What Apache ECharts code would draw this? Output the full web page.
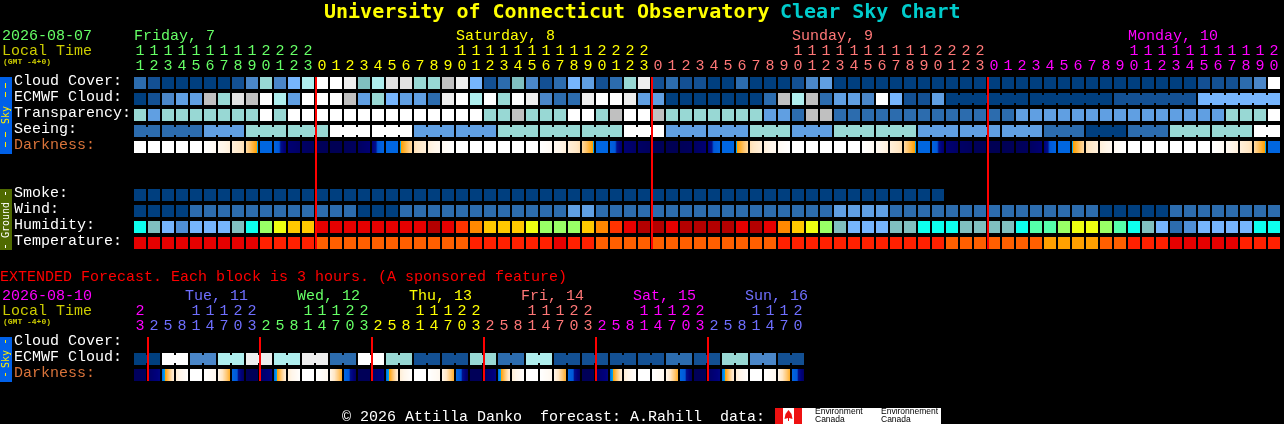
<!DOCTYPE html>
<html><head><meta charset="utf-8">
<style>html,body{margin:0;padding:0;background:#000}#c{width:1284px;height:424px}</style>
<script src="https://cdn.jsdelivr.net/npm/echarts@6/dist/echarts.min.js"></script>
</head><body><div id="c"></div>
<script>
// ---------- data ----------
const hours = [11,12,13,14,15,16,17,18,19,20,21,22,23,
 0,1,2,3,4,5,6,7,8,9,10,11,12,13,14,15,16,17,18,19,20,21,22,23,
 0,1,2,3,4,5,6,7,8,9,10,11,12,13,14,15,16,17,18,19,20,21,22,23,
 0,1,2,3,4,5,6,7,8,9,10,11,12,13,14,15,16,17,18,19,20];
const dayOfCol = [0,0,0,0,0,0,0,0,0,0,0,0,0,
 1,1,1,1,1,1,1,1,1,1,1,1,1,1,1,1,1,1,1,1,1,1,1,1,
 2,2,2,2,2,2,2,2,2,2,2,2,2,2,2,2,2,2,2,2,2,2,2,2,
 3,3,3,3,3,3,3,3,3,3,3,3,3,3,3,3,3,3,3,3,3,3];
const dayColors = ['#66ff66','#ffff00','#ff7777','#ff00ff'];
const rowLabels = ['Cloud Cover:','ECMWF Cloud:','Transparency:','Seeing:','Darkness:','','','Smoke:','Wind:','Humidity:','Temperature:'];
const cloudCover = [2,1,0,0,0,0,0,1,3,7,3,5,8, 12,12,11,6,8,10,10,7, 7,9,11,5,1,2,6,3,1,2,5,4,1,2,7,11, 1,2,1,1,0,0,2,0,0,0,1,3,4,0,0,
 0,0,0,0,0,0,0,0,0,0,0,0,0,0,0,0,0,0,0,0,0,0,0,0, 1,1,1,2,3,12];
const ecmwfCloud = [0,1,3,4,4,9,7,10,9,12,8,4,12, 12,12,9,4,7,5,4,4, 2,11,12,8,12,7,12,11,3,2,2,11,12,12,11,4, 4,0,0,0,0,0,0,0,2,9,8,9,2,4,4, 3,12,5,1,1,4,
 0,0,0,0,0,0,0,0,0,0,0,0, 1,1,1,1,1,1, 5,5,5,5,5,5];
const ecmwfBlocks = [1,1,1,1,1,1,1,1,1,1,1,1,1,1,1,1,1,1,1,1,1,1,1,1,1,1,1,1,1,1,1,1,1,1,1,1,1,1,1,1,1,1,1,1,1,1,1,1,1,1,1,1,1,1,1,1,1,1,6,6,6,6];
const transparency = [7,4,7,7,7,7,7,7,7,12,7,12,12, 12,12,12,12,12,12,12,12, 12,12,12,12,7,7,9,7,7,7,12,12,7,9,12,12, 9,7,7,7,7,7,7,7,4,4,2,9,9,2,2,
 2,2,2,2,2,2,2,2,2,2,2, 4,4,4,4,4,4,4,4,4,4,4,4,4,4,4, 7,7,7,12];
const seeingBlocks = [2,3,3,3,3,3,3,3,3,3,3,3,3,3,3,3,3,3,3,3,3,3,3,3,3,3,3,2];
const seeingValues = [2,2,4,7,7,12,12,4,4,7,7,7,12,4,4,7,4,7,7,4,4,4,2,0,2,7,7,12];
const darkStart = [8,8,8,8,8,8,7.3,6.6,5.6,3,2.8,.8,.5,.2,.1,.2,.4,1,3,3.7,5.8,6.6,7.4,8,8,8,8,8,8,
 8,7.3,6.6,5.6,3,2.8,.8,.5,.2,.1,.2,.4,1,3,3.7,5.8,6.6,7.4,8,8,8,8,8,8,
 7.3,6.6,5.6,3,2.8,.8,.5,.2,.1,.1,.2,.4,1,3,3.7,5.8,6.6,7.4,8,8,8,8,8,8,8,7.3,6.6,5.6,3];
const darkEnd = [8,8,8,8,8,7.4,6.6,5.8,3.7,3,.7,.5,.3,.2,.1,.3,.8,2.9,3,5.6,6.6,7.3,8,8,8,8,8,8,8,
 7.4,6.6,5.8,3.7,3,.7,.5,.3,.2,.1,.3,.8,2.9,3,5.6,6.6,7.3,8,8,8,8,8,8,7.4,
 6.6,5.8,3.7,3,.7,.5,.3,.2,.1,.2,.3,.8,2.9,3,5.6,6.6,7.3,8,8,8,8,8,8,8,7.4,6.6,5.8,3.7,3];
const smoke = [0,0,0,0,0,0,0,0,0,0,0,0,0,0,0,0,0,0,0,0,0,0,0,0,0,0,0,0,0,0,0,0,0,0,0,0,0,0,0,0,0,0,0,0,0,0,0,0,0,0,0,0,0,0,0,0,0,0];
const wind = [0,0,0,0,2,2,2,2,2,2,2,2,2,2,2,2,0,0,0,2,2, 2,2,2,2,2,2,2,2,2,2,4,4,2,2,2,2, 2,2,2,2,2,2,2,2,2,2,2,2,2,4,4,
 4,4,2,2,2,2,2,2,2,2,2,2,2,2,2,2,2,0,0,0,0,0,2,2,2,2,2,2,2,2];
const humidity = [4,3,2,1,2,2,2,3,4,6,7,8,8, 11,11,11,11,11,11,11,11, 12,11,10,9,8,8,8,7,6,6,6,8,9,10,11,12, 12,11,12,12,12,12,11,12,11,9,8,7,6,3,2,
 2,2,3,3,4,4,4,3,3,3,3,4,5,5,6,7,7,6,5,4,3,2,0,1,2,2,2,2,4,4];
const temperature = [0,0,0,0,0,0,0,0,0,1,1,1,1, 2,2,2,2,2,2,2,2, 2,2,2,1,1,1,1,1,1,0,1,1,2,2,2,2, 2,2,2,2,2,2,2,2,2,1,1,1,1,1,1,
 1,1,1,1,1,1,2,2,2,2,2,2,2,3,3,3,3,2,2,1,1,1,0,0,0,0,0,1,1,1];
const midnights = [13,37,61];
const dayTitles = [['Friday, 7',0],['Saturday, 8',1],['Sunday, 9',2],['Monday, 10',3]];

const extHours = [23, 2,5,8,11,14,17,20,23, 2,5,8,11,14,17,20,23, 2,5,8,11,14,17,20,23, 2,5,8,11,14,17,20,23, 2,5,8,11,14,17,20,23, 2,5,8,11,14,17,20];
const extDayOfCol = [3, 4,4,4,4,4,4,4,4, 0,0,0,0,0,0,0,0, 1,1,1,1,1,1,1,1, 2,2,2,2,2,2,2,2, 3,3,3,3,3,3,3,3, 4,4,4,4,4,4,4];
const extColors = ['#66ff66','#ffff00','#ff7777','#ff00ff','#6f6fff'];
const extRowLabels = ['Cloud Cover:','ECMWF Cloud:','Darkness:'];
const extEcmwf = [0,12,3,8,11,8,11,2,12,7,1,1,7,2,8,1,1,1,1,2,1,7,3,1];
const extDarkStart = [.3,.5,3,6.5,8,8,7,3, .2,.5,3,6.5,8,8,7,3, .2,.5,3,6.5,8,8,7,3, .2,.5,3,6.5,8,8,7,3, .2,.5,3,6.5,8,8,7,3, .2,.5,3,6.5,8,8,7,3];
const extDarkEnd   = [.3,1.2,6.5,7.9,8,7.2,4.3,.4, .2,1.2,6.5,7.9,8,7.2,4.3,.4, .2,1.2,6.5,7.9,8,7.2,4.3,.4, .2,1.2,6.5,7.9,8,7.2,4.3,.4, .2,1.2,6.5,7.9,8,7.2,4.3,.4, .2,1.2,6.5,7.9,8,7.2,4.3,.4];
const extMidnights = [1,9,17,25,33,41];
const extDayTitles = [['Tue, 11',4],['Wed, 12',0],['Thu, 13',1],['Fri, 14',2],['Sat, 15',3],['Sun, 16',4]];

// ---------- palettes ----------
const skyPal = ['#003f7f','#135093','#2c6cae','#4a86c8','#609fe2','#76b5fd','#80bfbf','#98d8d4','#afeeee','#c0c0c0','#e2e2e2','#eeeeee','#ffffff'];
const humPal = ['#2c6cae','#4f8fd6','#76b5fd','#80bfbf','#0dffee','#55ffaa','#99ff66','#eeff11','#ffc800','#ff8800','#ff3300','#e60000','#b40000'];
const tempPal = ['#e60000','#ff2000','#ff5f00','#ffa000'];
const darkRamp = [[0,[0,0,0x4f]],[1,[0,0,0x7c]],[1.6,[0,0x0f,0x8a]],[1.9,[0,0x58,0xd8]],[3,[0,0x66,0xe0]],[3.9,[0,0xb0,0xf0]],[3.9001,[0xff,0xa0,0]],[5,[0xff,0xc6,0x70]],[6,[0xff,0xe6,0xc4]],[7,[0xff,0xf6,0xea]],[8,[255,255,255]]];
function rampColor(v){
  for(let i=1;i<darkRamp.length;i++){
    if(v<=darkRamp[i][0]){
      const a=darkRamp[i-1],b=darkRamp[i],t=(v-a[0])/(b[0]-a[0]);
      return 'rgb('+a[1].map((c,k)=>Math.round(c+(b[1][k]-c)*t)).join(',')+')';
    }
  }
  return '#fff';
}
function darkFill(s,e){
  if(s===e) return rampColor(s);
  const n=12,stops=[];
  for(let i=0;i<n;i++){
    const c=rampColor(s+(e-s)*(i+.5)/n);
    stops.push({offset:i/n,color:c},{offset:(i+1)/n,color:c});
  }
  return {type:'linear',x:0,y:0,x2:1,y2:0,colorStops:stops};
}
function blockFlags(blocks){
  const out=[];
  blocks.forEach(b=>{for(let i=0;i<b;i++)out.push(i<b-1);});
  return out;
}
function expand(blocks,vals){
  const out=[];
  blocks.forEach((b,k)=>{for(let i=0;i<b;i++)out.push(vals[k]);});
  return out;
}
function cellRows(rows){
  const cells=[];
  rows.forEach(r=>r.vals.forEach((v,i)=>cells.push({col:i,row:r.row,fill:r.fill(v,i),join:r.join?r.join[i]:false})));
  return cells;
}
const mainCells = cellRows([
 {row:0,vals:cloudCover,fill:v=>skyPal[v]},
 {row:1,vals:ecmwfCloud,fill:v=>skyPal[v],join:blockFlags(ecmwfBlocks)},
 {row:2,vals:transparency,fill:v=>skyPal[v]},
 {row:3,vals:expand(seeingBlocks,seeingValues),fill:v=>skyPal[v],join:blockFlags(seeingBlocks)},
 {row:4,vals:darkStart,fill:(v,i)=>darkFill(darkStart[i],darkEnd[i])},
 {row:7,vals:smoke,fill:v=>skyPal[v]},
 {row:8,vals:wind,fill:v=>skyPal[v]},
 {row:9,vals:humidity,fill:v=>humPal[v]},
 {row:10,vals:temperature,fill:v=>tempPal[v]}
]);
const extBlocks = extEcmwf.map(()=>2);
const extCells = cellRows([
 {row:1,vals:expand(extBlocks,extEcmwf),fill:v=>skyPal[v],join:blockFlags(extBlocks)},
 {row:2,vals:extDarkStart,fill:(v,i)=>darkFill(extDarkStart[i],extDarkEnd[i])}
]);

function cellSeries(cells,ax){
  return {type:'custom',xAxisIndex:ax,yAxisIndex:ax===0?0:1,coordinateSystem:'cartesian2d',silent:true,clip:false,z:2,
    encode:{x:0,y:1},data:cells.map(c=>[c.col,c.row]),
    renderItem:(p,api)=>{
      const c=cells[p.dataIndex],pt=api.coord([c.col,c.row]),sz=api.size([1,1]);
      const w=sz[0]-2,h=sz[1]-4,x=pt[0]-w/2,y=pt[1]-h/2;
      const kids=[{type:'rect',shape:{x,y,width:w,height:h},style:{fill:c.fill}}];
      if(c.join){
        const last=typeof c.fill==='string'?c.fill:'#fff';
        kids.push({type:'rect',shape:{x:x+w,y:y+2,width:2,height:h-4},style:{fill:last}});
      }
      return {type:'group',children:kids};
    }};
}
function lineSeries(cols,ax,lastRow){
  return {type:'custom',xAxisIndex:ax,yAxisIndex:ax===0?0:1,coordinateSystem:'cartesian2d',silent:true,clip:false,z:3,
    encode:{x:0},data:cols.map(c=>[c]),
    renderItem:(p,api)=>{
      const col=api.value(0),sz=api.size([1,1]);
      const a=api.coord([col,0]),b=api.coord([col,lastRow]);
      return {type:'rect',shape:{x:a[0]-sz[0]/2,y:a[1]-sz[1]/2+2,width:2,height:b[1]-a[1]+sz[1]-4},style:{fill:'#ff0000'}};
    }};
}
const MONO='"Liberation Mono","DejaVu Sans Mono",monospace';
function hourAxis(grid,data,colorOf,offset,fmt){
  return {type:'category',gridIndex:grid,position:'top',data:data.map(String),offset:offset,
    axisLine:{show:false},axisTick:{show:false},splitLine:{show:false},
    axisLabel:{show:true,interval:0,margin:1,fontFamily:MONO,fontSize:15,hideOverlap:false,
      color:(v,i)=>colorOf(i),formatter:(v)=>fmt(+v)}};
}
function rowAxis(grid,labels){
  return {type:'category',gridIndex:grid,inverse:true,data:labels,
    axisLine:{show:false},axisTick:{show:false},splitLine:{show:false},
    axisLabel:{show:true,interval:0,margin:119,align:'left',fontFamily:MONO,fontSize:15,verticalAlign:'bottom',lineHeight:3,
      color:(v)=>v==='Darkness:'?'#d9733a':'#ffffff'}};
}
const units=h=>String(h%10);
const tens=h=>h>=10?String(Math.floor(h/10)):'';

// ---------- static text ----------
const txt=(text,x,y,fill,size,extra)=>({type:'text',x,y,silent:true,z:5,style:Object.assign({text,fill,fontFamily:MONO,fontSize:size,verticalAlign:'middle',align:'left'},extra||{})});
const bar=(x,y,w,h,fill)=>({type:'rect',z:4,silent:true,shape:{x,y,width:w,height:h},style:{fill}});
const rot=(text,cx,cy,fill,size)=>({type:'text',x:cx,y:cy,rotation:Math.PI/2,silent:true,z:5,style:{text,fill,fontFamily:'"DejaVu Sans Mono"',fontSize:size,align:'center',verticalAlign:'middle'}});
const graphics=[
 txt('University of Connecticut Observatory',324,13,'#ffff00',20,{fontWeight:'bold',fontFamily:'"DejaVu Sans Mono"'}),
 txt('Clear Sky Chart',780,13,'#00cccc',20,{fontWeight:'bold',fontFamily:'"DejaVu Sans Mono"'}),
 txt('2026-08-07',2,36,'#66ff66',15),
 txt('Local Time',2,51,'#cccc00',15),
 txt('(GMT -4+0)',3,62,'#cccc00',8,{fontWeight:'bold'}),
 txt('EXTENDED Forecast. Each block is 3 hours. (A sponsored feature)',0,277,'#ff0000',15),
 txt('2026-08-10',2,296,'#ff00ff',15),
 txt('Local Time',2,311,'#cccc00',15),
 txt('(GMT -4+0)',3,322,'#cccc00',8,{fontWeight:'bold'}),
 txt('\u00a9 2026 Attilla Danko  forecast: A.Rahill  data:',342,417,'#ffffff',15),
 // side tabs
 bar(0,77,12,77,'#0060e8'), bar(5,83,1,5,'#ffee00'), bar(5,92,1,5,'#ffee00'), bar(5,132,1,5,'#ffee00'), bar(5,142,1,5,'#ffee00'),
 rot('Sky',6,115,'#ffee00',10),
 bar(0,189,12,61,'#4f6a00'), bar(5,192,1,3,'#ffffff'), bar(5,245,1,3,'#ffffff'),
 rot('Ground',6,220,'#ffffff',10),
 bar(0,337,12,45,'#0060e8'), bar(5,340,1,3,'#ffee00'), bar(5,373,1,3,'#ffee00'),
 rot('Sky',6,359,'#ffee00',10),
 // logo
 bar(775,408,166,16,'#ffffff'), bar(775,408,8,16,'#ee1111'), bar(794,408,8,16,'#ee1111'),
 {type:'polygon',z:5,silent:true,shape:{points:[[788.5,410],[791.5,414],[792.5,419],[789,418],[789,421],[788,421],[788,418],[784.5,419],[785.5,414]]},style:{fill:'#ee1111'}},
 txt('Environment',815,412,'#000000',8.5,{fontFamily:'"Liberation Sans"'}),
 txt('Canada',815,420,'#000000',8.5,{fontFamily:'"Liberation Sans"'}),
 txt('Environnement',881,412,'#000000',8.5,{fontFamily:'"Liberation Sans"'}),
 txt('Canada',881,420,'#000000',8.5,{fontFamily:'"Liberation Sans"'})
];
dayTitles.forEach(d=>{
  const col=dayOfCol.findIndex((x,i)=>x===d[1]&&hours[i]>=10&&hours[i]<=11);
  graphics.push(txt(d[0],134+14*col,36,dayColors[d[1]],15));
});
extDayTitles.forEach((d,k)=>{
  graphics.push(txt(d[0],185+112*k,296,extColors[d[1]],15));
});

const chart=echarts.init(document.getElementById('c'),null,{renderer:'canvas',width:1284,height:424});
chart.setOption({
  backgroundColor:'#000000',animation:false,
  grid:[{left:133,top:75,width:1148,height:176,containLabel:false},{left:133,top:335,width:672,height:48}],
  xAxis:[
    hourAxis(0,hours,i=>dayColors[dayOfCol[i]],0,units),
    hourAxis(0,hours,i=>dayColors[dayOfCol[i]],15,tens),
    hourAxis(1,extHours,i=>extColors[extDayOfCol[i]],0,units),
    hourAxis(1,extHours,i=>extColors[extDayOfCol[i]],15,tens)
  ],
  yAxis:[rowAxis(0,rowLabels),rowAxis(1,extRowLabels)],
  series:[cellSeries(mainCells,0),lineSeries(midnights,0,10),cellSeries(extCells,2),lineSeries(extMidnights,2,2)],
  graphic:{elements:graphics}
});
</script></body></html>
